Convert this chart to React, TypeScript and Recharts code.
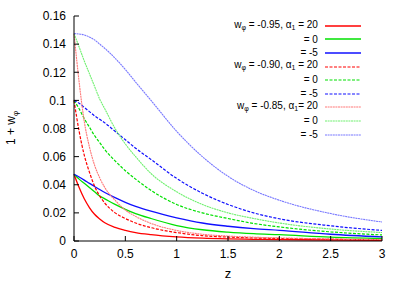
import { Line, LineChart, XAxis, YAxis } from "recharts";

const Z = [0, 0.05, 0.1, 0.15, 0.2, 0.25, 0.3, 0.4, 0.5, 0.6, 0.75, 1, 1.25, 1.5, 1.75, 2, 2.5, 3];

// w = -0.95
const w95a20 = [0.0475, 0.038, 0.03, 0.0238, 0.019, 0.0157, 0.013, 0.0097, 0.0076, 0.006, 0.0045, 0.0029, 0.002, 0.0015, 0.0012, 0.001, 0.0007, 0.0005];
const w95a0 = [0.0475, 0.044, 0.041, 0.038, 0.035, 0.032, 0.03, 0.026, 0.0225, 0.0195, 0.016, 0.011, 0.008, 0.0063, 0.0052, 0.0045, 0.0028, 0.0018];
const w95am5 = [0.0475, 0.0455, 0.0433, 0.041, 0.0388, 0.0366, 0.0345, 0.0308, 0.0275, 0.0247, 0.0212, 0.0165, 0.0128, 0.0105, 0.0088, 0.0076, 0.0048, 0.0029];
// w = -0.90
const w90a20 = [0.1, 0.078, 0.061, 0.049, 0.039, 0.032, 0.027, 0.02, 0.016, 0.0128, 0.0095, 0.006, 0.0038, 0.0028, 0.0022, 0.0018, 0.0012, 0.0008];
const w90a0 = [0.1, 0.094, 0.087, 0.081, 0.075, 0.07, 0.065, 0.057, 0.05, 0.044, 0.036, 0.026, 0.02, 0.016, 0.0125, 0.01, 0.0065, 0.0043];
const w90am5 = [0.1, 0.098, 0.095, 0.092, 0.089, 0.0865, 0.084, 0.078, 0.072, 0.066, 0.058, 0.0445, 0.034, 0.026, 0.02, 0.0158, 0.0108, 0.0075];
// w = -0.85
const w85a20 = [0.1475, 0.113, 0.085, 0.067, 0.054, 0.045, 0.038, 0.029, 0.022, 0.0175, 0.0125, 0.0075, 0.0048, 0.0035, 0.0027, 0.0022, 0.0015, 0.001];
const w85a0 = [0.1475, 0.138, 0.128, 0.119, 0.11, 0.101, 0.094, 0.08, 0.069, 0.06, 0.048, 0.035, 0.026, 0.02, 0.016, 0.0128, 0.0085, 0.006];
const w85am5 = [0.1475, 0.1472, 0.1465, 0.145, 0.143, 0.14, 0.137, 0.13, 0.122, 0.113, 0.1, 0.078, 0.06, 0.046, 0.036, 0.029, 0.0195, 0.0135];

const xTicks = [0, 0.5, 1, 1.5, 2, 2.5, 3];
const yTicks = [0, 0.02, 0.04, 0.06, 0.08, 0.1, 0.12, 0.14, 0.16];

const series = [
  { key: "s1", w: "-0.95,", a: " = 20", values: w95a20, color: "#ff0000", width: 1.3, dash: undefined },
  { key: "s2", w: null, a: "= 0", values: w95a0, color: "#00e000", width: 1.3, dash: undefined },
  { key: "s3", w: null, a: "= -5", values: w95am5, color: "#1010ff", width: 1.3, dash: undefined },
  { key: "s4", w: "-0.90,", a: " = 20", values: w90a20, color: "#ff0000", width: 1.2, dash: "3 1.5" },
  { key: "s5", w: null, a: "= 0", values: w90a0, color: "#00e000", width: 1.2, dash: "3 1.5" },
  { key: "s6", w: null, a: "= -5", values: w90am5, color: "#1010ff", width: 1.2, dash: "3 1.5" },
  { key: "s7", w: "-0.85,", a: "= 20", values: w85a20, color: "#ff7878", width: 1.1, dash: "2 0.6" },
  { key: "s8", w: null, a: "= 0", values: w85a0, color: "#70f070", width: 1.1, dash: "2 0.6" },
  { key: "s9", w: null, a: "= -5", values: w85am5, color: "#7878ff", width: 1.1, dash: "2 0.6" },
];

const rows = Z.map((z, i) => {
  const r: Record<string, number> = { z };
  series.forEach((s) => (r[s.key] = s.values[i]));
  return r;
});

const font = '"Liberation Sans", Arial, sans-serif';
const tickStyle = { fontSize: 12, fill: "#000", fontFamily: font };

export default function App() {
  return (
    <div style={{ position: "absolute", left: 0, top: 0, width: 407, height: 285, background: "#fff", fontFamily: font }}>
      <LineChart width={407} height={285} data={rows} margin={{ top: 16, right: 25, bottom: 0, left: 0 }}>
        <XAxis
          dataKey="z"
          type="number"
          domain={[0, 3]}
          ticks={xTicks}
          height={44}
          tickSize={-5}
          tickMargin={13}
          stroke="#000"
          tick={tickStyle}
          tickFormatter={(v: number) => String(v)}
        />
        <XAxis
          xAxisId="top"
          orientation="top"
          dataKey="z"
          type="number"
          domain={[0, 3]}
          allowDataOverflow
          ticks={xTicks}
          height={0}
          tickSize={-5}
          stroke="#000"
          tickFormatter={() => ""}
        />
        <YAxis
          type="number"
          domain={[0, 0.16]}
          ticks={yTicks}
          width={74}
          tickSize={-5}
          tickMargin={13}
          stroke="#000"
          tick={tickStyle}
          tickFormatter={(v: number) => String(+v.toFixed(2))}
        />
        <YAxis
          yAxisId="right"
          orientation="right"
          type="number"
          domain={[0, 0.16]}
          allowDataOverflow
          ticks={yTicks}
          width={0}
          tickSize={-5}
          stroke="#000"
          tickFormatter={() => ""}
        />
        {series.map((s) => (
          <Line
            key={s.key}
            dataKey={s.key}
            type="monotone"
            stroke={s.color}
            strokeWidth={s.width}
            strokeDasharray={s.dash}
            dot={false}
            activeDot={false}
            isAnimationActive={false}
          />
        ))}
      </LineChart>

      <div style={{ position: "absolute", left: 228, top: 273, transform: "translate(-50%, -50%)", fontSize: 13 }}>z</div>
      <div
        style={{
          position: "absolute",
          left: 12,
          top: 128,
          transform: "translate(-50%, -50%) rotate(-90deg)",
          fontSize: 12,
          whiteSpace: "nowrap",
        }}
      >
        1 + w<sub style={{ fontSize: 8 }}>φ</sub>
      </div>

      <div style={{ position: "absolute", left: 200, top: 19, width: 170 }}>
        {series.map((s) => (
          <div key={s.key} style={{ display: "flex", alignItems: "center", height: 13.6, fontSize: 10, lineHeight: "13.6px" }}>
            <div style={{ width: 123, textAlign: "right", whiteSpace: "nowrap" }}>
              {s.w ? (
                <>
                  w<sub style={{ fontSize: 7, verticalAlign: "-2px" }}>φ</sub> = {s.w} α
                  <sub style={{ fontSize: 7, verticalAlign: "-2px" }}>1</sub>
                  {s.a}
                </>
              ) : (
                s.a
              )}
            </div>
            <svg width={47} height={6} style={{ marginLeft: 7 }}>
              <line x1={0} y1={3} x2={36} y2={3} stroke={s.color} strokeWidth={s.width} strokeDasharray={s.dash} />
            </svg>
          </div>
        ))}
      </div>
    </div>
  );
}
